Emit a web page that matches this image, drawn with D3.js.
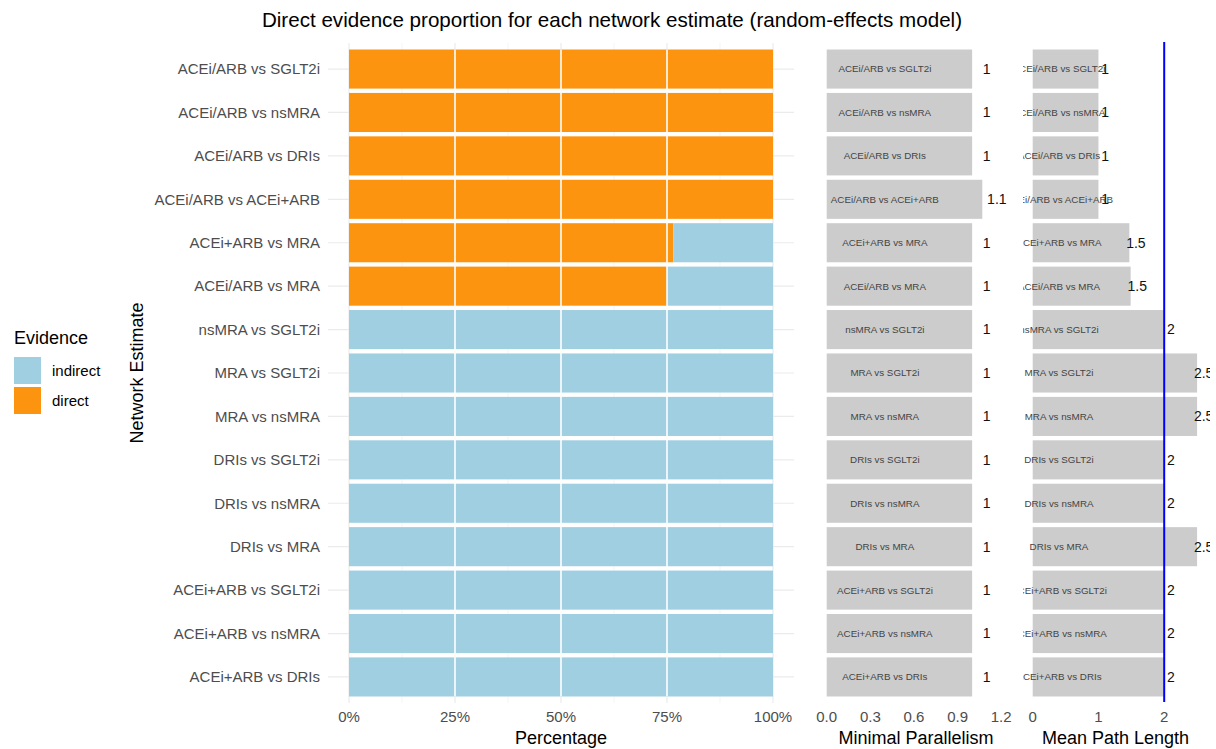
<!DOCTYPE html>
<html>
<head>
<meta charset="utf-8">
<script src="https://cdn.jsdelivr.net/npm/d3@7"></script>
<style>
  html, body { margin: 0; padding: 0; background: #fff; }
  svg { display: block; font-family: "Liberation Sans", Arial, Helvetica, sans-serif; }
</style>
</head>
<body>
<svg id="chart" width="1216" height="749"></svg>
<script>
// ---------- data ----------
const comparisons = [
  "ACEi/ARB vs SGLT2i", "ACEi/ARB vs nsMRA", "ACEi/ARB vs DRIs", "ACEi/ARB vs ACEi+ARB",
  "ACEi+ARB vs MRA", "ACEi/ARB vs MRA", "nsMRA vs SGLT2i", "MRA vs SGLT2i",
  "MRA vs nsMRA", "DRIs vs SGLT2i", "DRIs vs nsMRA", "DRIs vs MRA",
  "ACEi+ARB vs SGLT2i", "ACEi+ARB vs nsMRA", "ACEi+ARB vs DRIs"
];
const directProportion = [1, 1, 1, 1, 0.765, 0.75, 0, 0, 0, 0, 0, 0, 0, 0, 0];
const minimalParallelism = [1, 1, 1, 1.07, 1, 1, 1, 1, 1, 1, 1, 1, 1, 1, 1];
const meanPathLength = [1, 1, 1, 1, 1.47, 1.49, 2, 2.5, 2.5, 2, 2, 2.5, 2, 2, 2];
const evidenceTypes = ["indirect", "direct"];
const evidenceColors = ["#9fcfe0", "#fd940f"];
const pctTicks = [0, 0.25, 0.5, 0.75, 1];
const pctMinorTicks = [0.125, 0.375, 0.625, 0.875];
const mpTicks = [0, 0.3, 0.6, 0.9, 1.2];
const mplTicks = [0, 1, 2];
const mplReference = 2;

// ---------- layout ----------
const svg = d3.select("#chart");
const panelTop = 43, panelBottom = 703;
const y = d3.scalePoint().domain(comparisons).range([panelTop, panelBottom]).padding(0.6);
const barH = y.step() * 0.9;

const x1 = d3.scaleLinear().domain([0, 1]).range([349, 773]);
const p1 = { left: 328, right: 794 };
const x2 = d3.scaleLinear().domain([0, 1.2]).range([826.7, 1001.2]);
const x3 = d3.scaleLinear().domain([0, 2]).range([1032.7, 1164.2]);
const p3 = { left: 1023, right: 1210 };

const rows = comparisons.map((c, i) => ({
  name: c, direct: directProportion[i], mp: minimalParallelism[i], mpl: meanPathLength[i]
}));
const fmtVal = v => String(Math.round(v * 10) / 10);

// ---------- title ----------
svg.append("text").attr("x", 612).attr("y", 27).attr("text-anchor", "middle")
  .attr("font-size", 20.6).attr("fill", "#000")
  .text("Direct evidence proportion for each network estimate (random-effects model)");

// ---------- panel 1 ----------
const g1 = svg.append("g");
// grid
g1.selectAll("line.minor").data(pctMinorTicks).join("line")
  .attr("x1", d => x1(d)).attr("x2", d => x1(d)).attr("y1", panelTop).attr("y2", panelBottom)
  .attr("stroke", "#f2f2f2").attr("stroke-width", 0.8);
g1.selectAll("line.majx").data(pctTicks).join("line")
  .attr("x1", d => x1(d)).attr("x2", d => x1(d)).attr("y1", panelTop).attr("y2", panelBottom)
  .attr("stroke", "#ebebeb").attr("stroke-width", 1.2);
g1.selectAll("line.majy").data(comparisons).join("line")
  .attr("x1", p1.left).attr("x2", p1.right).attr("y1", d => y(d)).attr("y2", d => y(d))
  .attr("stroke", "#ebebeb").attr("stroke-width", 1.2);
// stacked bars: direct first from 0
rows.forEach(r => {
  if (r.direct > 0) {
    g1.append("rect").attr("x", x1(0)).attr("width", x1(r.direct) - x1(0))
      .attr("y", y(r.name) - barH / 2).attr("height", barH).attr("fill", evidenceColors[1]);
  }
  if (r.direct < 1) {
    g1.append("rect").attr("x", x1(r.direct)).attr("width", x1(1) - x1(r.direct))
      .attr("y", y(r.name) - barH / 2).attr("height", barH).attr("fill", evidenceColors[0]);
  }
});
// white reference lines over bars
g1.selectAll("line.white").data(pctTicks.slice(1, 4)).join("line")
  .attr("x1", d => x1(d)).attr("x2", d => x1(d))
  .attr("y1", y(comparisons[0]) - barH / 2).attr("y2", y(comparisons[comparisons.length - 1]) + barH / 2)
  .attr("stroke", "#fff").attr("stroke-width", 1.6);
// y labels
g1.selectAll("text.ylab").data(comparisons).join("text")
  .attr("x", 320).attr("y", d => y(d)).attr("dy", "0.35em").attr("text-anchor", "end")
  .attr("font-size", 15).attr("fill", "#4d4d4d").text(d => d);
// x ticks
g1.selectAll("text.xt").data(pctTicks).join("text")
  .attr("x", d => x1(d)).attr("y", 722).attr("text-anchor", "middle")
  .attr("font-size", 15).attr("fill", "#4d4d4d").text(d => d3.format(".0%")(d));
svg.append("text").attr("x", x1(0.5)).attr("y", 744).attr("text-anchor", "middle")
  .attr("font-size", 18).attr("fill", "#000").text("Percentage");
svg.append("text").attr("transform", `translate(143,${(panelTop + panelBottom) / 2}) rotate(-90)`)
  .attr("text-anchor", "middle").attr("font-size", 18).attr("fill", "#000").text("Network Estimate");

// ---------- panel 2 ----------
const g2 = svg.append("g");
g2.selectAll("rect").data(rows).join("rect")
  .attr("x", x2(0)).attr("width", d => x2(d.mp) - x2(0))
  .attr("y", d => y(d.name) - barH / 2).attr("height", barH).attr("fill", "#cccccc");
g2.selectAll("text.in").data(rows).join("text")
  .attr("x", x2(0.4)).attr("y", d => y(d.name)).attr("dy", "0.35em").attr("text-anchor", "middle")
  .attr("font-size", 9.8).attr("fill", "#444").text(d => d.name);
g2.selectAll("text.val").data(rows).join("text")
  .attr("x", d => x2(d.mp + 0.1)).attr("y", d => y(d.name)).attr("dy", "0.35em").attr("text-anchor", "middle")
  .attr("font-size", 14).attr("fill", "#111").text(d => fmtVal(d.mp));
g2.selectAll("text.xt").data(mpTicks).join("text")
  .attr("x", d => x2(d)).attr("y", 722).attr("text-anchor", "middle")
  .attr("font-size", 15).attr("fill", "#4d4d4d").text(d => d3.format(".1f")(d));
svg.append("text").attr("x", 916).attr("y", 744).attr("text-anchor", "middle")
  .attr("font-size", 18).attr("fill", "#000").text("Minimal Parallelism");

// ---------- panel 3 ----------
svg.append("defs").append("clipPath").attr("id", "clip3")
  .append("rect").attr("x", p3.left).attr("y", 0).attr("width", p3.right - p3.left).attr("height", 749);
const g3 = svg.append("g").attr("clip-path", "url(#clip3)");
g3.selectAll("rect").data(rows).join("rect")
  .attr("x", x3(0)).attr("width", d => x3(d.mpl) - x3(0))
  .attr("y", d => y(d.name) - barH / 2).attr("height", barH).attr("fill", "#cccccc");
g3.selectAll("text.in").data(rows).join("text")
  .attr("x", x3(0.4)).attr("y", d => y(d.name)).attr("dy", "0.35em").attr("text-anchor", "middle")
  .attr("font-size", 9.8).attr("fill", "#444").text(d => d.name);
g3.append("line").attr("x1", x3(mplReference)).attr("x2", x3(mplReference))
  .attr("y1", panelTop - 1).attr("y2", panelBottom - 1).attr("stroke", "#0000ff").attr("stroke-width", 2);
g3.selectAll("text.val").data(rows).join("text")
  .attr("x", d => x3(d.mpl + 0.1)).attr("y", d => y(d.name)).attr("dy", "0.35em").attr("text-anchor", "middle")
  .attr("font-size", 14).attr("fill", "#111").text(d => fmtVal(d.mpl));
svg.selectAll("text.xt3").data(mplTicks).join("text")
  .attr("x", d => x3(d)).attr("y", 722).attr("text-anchor", "middle")
  .attr("font-size", 15).attr("fill", "#4d4d4d").text(d => d);
svg.append("text").attr("x", 1115.5).attr("y", 744).attr("text-anchor", "middle")
  .attr("font-size", 18).attr("fill", "#000").text("Mean Path Length");

// ---------- legend ----------
const lg = svg.append("g");
lg.append("text").attr("x", 14).attr("y", 344).attr("font-size", 18).attr("fill", "#000").text("Evidence");
lg.selectAll("rect").data(evidenceTypes).join("rect")
  .attr("x", 14).attr("y", (d, i) => 357 + i * 30).attr("width", 27).attr("height", 27)
  .attr("fill", (d, i) => evidenceColors[i]);
lg.selectAll("text.lab").data(evidenceTypes).join("text")
  .attr("x", 52).attr("y", (d, i) => 371 + i * 30).attr("dy", "0.35em")
  .attr("font-size", 15).attr("fill", "#000").text(d => d);
</script>
</body>
</html>
